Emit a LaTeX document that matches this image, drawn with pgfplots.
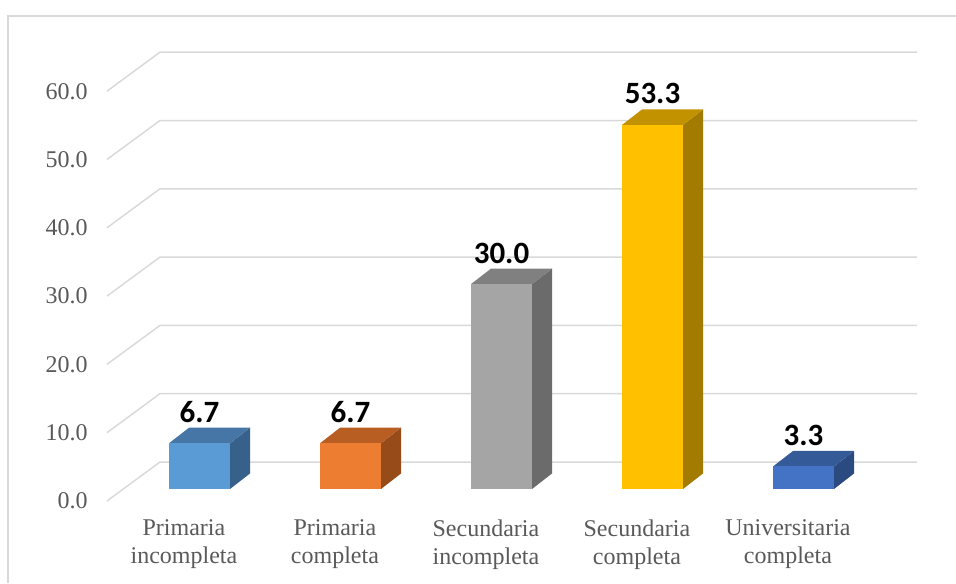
\documentclass[border=0pt]{standalone}
\usepackage{pgfplots}
\pgfplotsset{compat=1.18}
\usepackage{fontspec}
\setmainfont{Liberation Serif}
\newfontfamily\calibri{Carlito}
\definecolor{gridc}{HTML}{D9D9D9}
\definecolor{labc}{HTML}{595959}
\definecolor{aF}{HTML}{5B9BD5}\definecolor{aT}{HTML}{4676A6}\definecolor{aS}{HTML}{37618A}
\definecolor{bF}{HTML}{ED7D31}\definecolor{bT}{HTML}{B85E22}\definecolor{bS}{HTML}{964B19}
\definecolor{cF}{HTML}{A5A5A5}\definecolor{cT}{HTML}{808080}\definecolor{cS}{HTML}{6B6B6B}
\definecolor{dF}{HTML}{FFC000}\definecolor{dT}{HTML}{C39200}\definecolor{dS}{HTML}{A37B00}
\definecolor{eF}{HTML}{4472C4}\definecolor{eT}{HTML}{345A98}\definecolor{eS}{HTML}{2B4A80}
\pgfplotsset{
  frontbar/.style={ybar, bar width=0.404, bar shift=0pt, draw=none,
    nodes near coords={\pgfmathprintnumber[fixed,fixed zerofill,precision=1]{\pgfplotspointmeta}},
    nodes near coords style={anchor=base, inner sep=0pt, yshift=15.75pt,
      font=\calibri\bfseries\fontsize{23.25}{26}\selectfont, text=black}},
  face/.style={draw=none, no marks, forget plot},
  gridl/.style={gridc, line width=1.1pt, no marks, forget plot},
}
\begin{document}
\begin{tikzpicture}
\useasboundingbox (0,0) rectangle (717pt,437.25pt);
\draw[gridc, line width=0.9pt] (6pt,0) -- (6pt,425.25pt) -- (717pt,425.25pt);
\begin{axis}[
  at={(0,0)}, anchor=south west,
  scale only axis, width=717pt, height=437.25pt,
  xmin=-1.3212, xmax=5.0099, ymin=-13.763, ymax=71.596,
  axis line style={draw=none}, tick style={draw=none},
  clip=false,
  ytick={0,10,20,30,40,50,60},
  yticklabel style={anchor=east, inner sep=0pt, xshift=66pt, yshift=-9pt,
    font=\fontsize{18}{21}\selectfont, text=labc},
  /pgf/number format/assume math mode=true,
  /pgf/number format/fixed, /pgf/number format/fixed zerofill, /pgf/number format/precision=1,
  xtick={-0.103,0.897,1.897,2.897,3.897},
  xticklabels={Primaria\\incompleta, Primaria\\completa, Secundaria\\incompleta, Secundaria\\completa, Universitaria\\completa},
  xticklabel style={anchor=north, inner sep=0pt, yshift=47.5pt, align=center,
    font=\fontsize{18}{21}\selectfont, text=labc},
]
% grid lines (floor diagonal + back wall)
\addplot[gridl] coordinates {(-0.613,-1.76) (-0.262,3.95) (4.752,3.95)};
\addplot[gridl] coordinates {(-0.613,8.24) (-0.262,13.95) (4.752,13.95)};
\addplot[gridl] coordinates {(-0.613,18.24) (-0.262,23.95) (4.752,23.95)};
\addplot[gridl] coordinates {(-0.613,28.24) (-0.262,33.95) (4.752,33.95)};
\addplot[gridl] coordinates {(-0.613,38.24) (-0.262,43.95) (4.752,43.95)};
\addplot[gridl] coordinates {(-0.613,48.24) (-0.262,53.95) (4.752,53.95)};
\addplot[gridl] coordinates {(-0.613,58.24) (-0.262,63.95) (4.752,63.95)};
% side faces
\addplot[face, fill=aS] coordinates {(0.202,0) (0.3345,2.27) (0.3345,8.97) (0.202,6.7)} -- cycle;
\addplot[face, fill=bS] coordinates {(1.202,0) (1.3345,2.27) (1.3345,8.97) (1.202,6.7)} -- cycle;
\addplot[face, fill=cS] coordinates {(2.202,0) (2.3345,2.27) (2.3345,32.27) (2.202,30)} -- cycle;
\addplot[face, fill=dS] coordinates {(3.202,0) (3.3345,2.27) (3.3345,55.57) (3.202,53.3)} -- cycle;
\addplot[face, fill=eS] coordinates {(4.202,0) (4.3345,2.27) (4.3345,5.57) (4.202,3.3)} -- cycle;
% top faces
\addplot[face, fill=aT] coordinates {(-0.202,6.7) (0.202,6.7) (0.3345,8.97) (-0.0695,8.97)} -- cycle;
\addplot[face, fill=bT] coordinates {(0.798,6.7) (1.202,6.7) (1.3345,8.97) (0.9305,8.97)} -- cycle;
\addplot[face, fill=cT] coordinates {(1.798,30) (2.202,30) (2.3345,32.27) (1.9305,32.27)} -- cycle;
\addplot[face, fill=dT] coordinates {(2.798,53.3) (3.202,53.3) (3.3345,55.57) (2.9305,55.57)} -- cycle;
\addplot[face, fill=eT] coordinates {(3.798,3.3) (4.202,3.3) (4.3345,5.57) (3.9305,5.57)} -- cycle;
% front faces with value labels
\addplot[frontbar, fill=aF] coordinates {(0,6.7)};
\addplot[frontbar, fill=bF] coordinates {(1,6.7)};
\addplot[frontbar, fill=cF] coordinates {(2,30.0)};
\addplot[frontbar, fill=dF] coordinates {(3,53.3)};
\addplot[frontbar, fill=eF] coordinates {(4,3.3)};
\end{axis}
\end{tikzpicture}
\end{document}
